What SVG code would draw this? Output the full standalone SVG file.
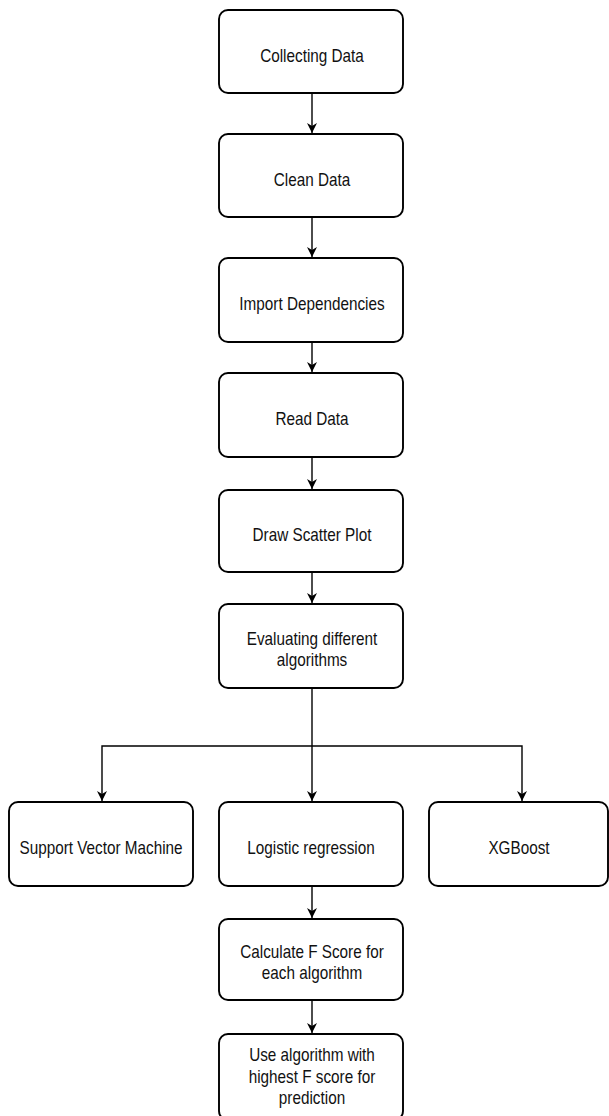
<svg xmlns="http://www.w3.org/2000/svg" width="609" height="1116" viewBox="0 0 609 1116">
<style>
.box{fill:#fff;stroke:#000;stroke-width:1.9}
.t{font-family:"Liberation Sans",Arial,sans-serif;font-size:18px;fill:#111;text-anchor:middle}
.c{fill:none;stroke:#000;stroke-width:1.4}
</style>
<defs>
<marker id="ah" markerWidth="12" markerHeight="12" refX="10" refY="5.5" orient="auto" markerUnits="userSpaceOnUse">
<path d="M0,0.5 L10,5.5 L0,10.5 L3,5.5 Z" fill="#000"/>
</marker>
</defs>
<rect width="609" height="1116" fill="#fff"/>
<g id="connectors">
<line class="c" x1="312" y1="93" x2="312" y2="133" marker-end="url(#ah)"/>
<line class="c" x1="312" y1="217" x2="312" y2="257" marker-end="url(#ah)"/>
<line class="c" x1="312" y1="342" x2="312" y2="372" marker-end="url(#ah)"/>
<line class="c" x1="312" y1="457" x2="312" y2="489" marker-end="url(#ah)"/>
<line class="c" x1="312" y1="572" x2="312" y2="603" marker-end="url(#ah)"/>
<line class="c" x1="312" y1="688" x2="312" y2="801" marker-end="url(#ah)"/>
<polyline class="c" points="312,746 102,746 102,801" marker-end="url(#ah)"/>
<polyline class="c" points="312,746 522,746 522,801" marker-end="url(#ah)"/>
<line class="c" x1="312" y1="886" x2="312" y2="918" marker-end="url(#ah)"/>
<line class="c" x1="312" y1="1000" x2="312" y2="1033" marker-end="url(#ah)"/>
</g>
<g id="n1"><rect class="box" x="219" y="10" width="184" height="83" rx="9"/><text class="t" transform="translate(312,62) scale(0.85,1)">Collecting Data</text></g>
<g id="n2"><rect class="box" x="219" y="134" width="184" height="83" rx="9"/><text class="t" transform="translate(312,186) scale(0.85,1)">Clean Data</text></g>
<g id="n3"><rect class="box" x="219" y="258" width="184" height="84" rx="9"/><text class="t" transform="translate(312,310) scale(0.85,1)">Import Dependencies</text></g>
<g id="n4"><rect class="box" x="219" y="373" width="184" height="84" rx="9"/><text class="t" transform="translate(312,425) scale(0.85,1)">Read Data</text></g>
<g id="n5"><rect class="box" x="219" y="490" width="184" height="82" rx="9"/><text class="t" transform="translate(312,541) scale(0.85,1)">Draw Scatter Plot</text></g>
<g id="n6"><rect class="box" x="219" y="604" width="184" height="84" rx="9"/><text class="t" transform="translate(312,645) scale(0.85,1)">Evaluating different</text><text class="t" transform="translate(312,666) scale(0.85,1)">algorithms</text></g>
<g id="n7"><rect class="box" x="9" y="802" width="184" height="84" rx="9"/><text class="t" transform="translate(101,854) scale(0.85,1)">Support Vector Machine</text></g>
<g id="n8"><rect class="box" x="219" y="802" width="184" height="84" rx="9"/><text class="t" transform="translate(311,854) scale(0.85,1)">Logistic regression</text></g>
<g id="n9"><rect class="box" x="429" y="802" width="179" height="84" rx="9"/><text class="t" transform="translate(519,854) scale(0.85,1)">XGBoost</text></g>
<g id="n10"><rect class="box" x="219" y="919" width="184" height="81" rx="9"/><text class="t" transform="translate(312,958) scale(0.85,1)">Calculate F Score for</text><text class="t" transform="translate(312,979) scale(0.85,1)">each algorithm</text></g>
<g id="n11"><rect class="box" x="219" y="1034" width="184" height="86" rx="9"/><text class="t" transform="translate(312,1061) scale(0.85,1)">Use algorithm with</text><text class="t" transform="translate(312,1083) scale(0.85,1)">highest F score for</text><text class="t" transform="translate(312,1104) scale(0.85,1)">prediction</text></g>
</svg>
